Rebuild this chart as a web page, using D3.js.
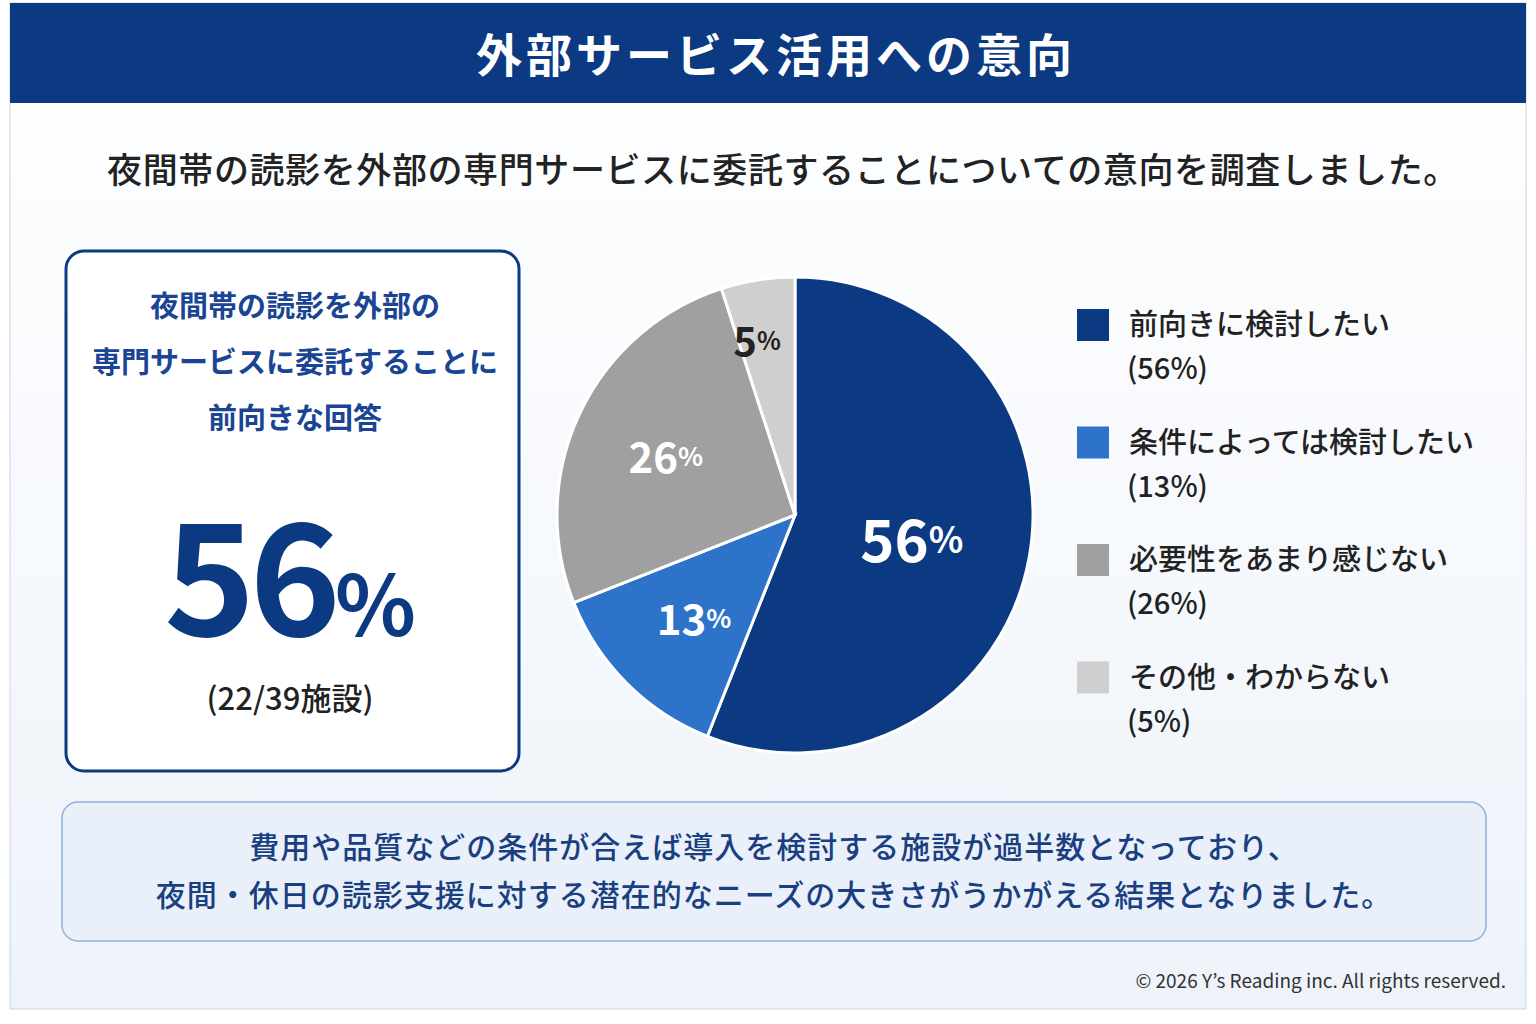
<!DOCTYPE html>
<html><head><meta charset="utf-8">
<script src="https://cdn.jsdelivr.net/npm/d3@7"></script>
<style>body{margin:0;background:#fff}svg{display:block}</style>
</head><body><div id="screen"></div>
<script>
var width = 1536, height = 1024;
var categories = ["前向きに検討したい", "条件によっては検討したい", "必要性をあまり感じない", "その他・わからない"];
var values = [56, 13, 26, 5];
var colors = ["#0b3a82", "#2c73c9", "#a0a0a0", "#cfcfcf"];
var font = "'Noto Sans CJK JP', 'Noto Sans', sans-serif";

var svg = d3.select("#screen").append("svg").attr("width", width).attr("height", height);
var defs = svg.append("defs");
var grad = defs.append("linearGradient").attr("id", "bg").attr("x1", 0).attr("y1", 0).attr("x2", 0).attr("y2", 1);
grad.append("stop").attr("offset", 0).attr("stop-color", "#ffffff");
grad.append("stop").attr("offset", 1).attr("stop-color", "#eef3fa");

svg.append("rect").attr("x", 10).attr("y", 3).attr("width", 1516).attr("height", 1006)
  .attr("fill", "url(#bg)").attr("stroke", "#c9d6ea");
svg.append("rect").attr("x", 10).attr("y", 3).attr("width", 1516).attr("height", 100).attr("fill", "#0b3a82");
svg.append("text").attr("x", 776).attr("y", 72).attr("text-anchor", "middle")
  .attr("font-family", font).attr("font-weight", 700).attr("font-size", 46).attr("fill", "#fff")
  .attr("letter-spacing", 4).text("外部サービス活用への意向");
svg.append("text").attr("x", 783).attr("y", 183).attr("text-anchor", "middle")
  .attr("font-family", font).attr("font-weight", 500).attr("font-size", 35).attr("fill", "#222")
  .attr("letter-spacing", 0.6)
  .text("夜間帯の読影を外部の専門サービスに委託することについての意向を調査しました。");

// left box
svg.append("rect").attr("x", 66).attr("y", 251).attr("width", 453).attr("height", 520).attr("rx", 18)
  .attr("fill", "#fff").attr("stroke", "#0b3a82").attr("stroke-width", 3);
["夜間帯の読影を外部の", "専門サービスに委託することに", "前向きな回答"].forEach(function(t, i) {
  svg.append("text").attr("x", 295).attr("y", 317 + i * 56).attr("text-anchor", "middle")
    .attr("font-family", font).attr("font-weight", 700).attr("font-size", 29).attr("fill", "#1a4494").text(t);
});
var big = svg.append("text").attr("x", 290).attr("y", 636).attr("text-anchor", "middle")
  .attr("font-family", font).attr("font-weight", 700).attr("fill", "#0b3a82");
big.append("tspan").attr("font-size", 155).attr("letter-spacing", -6).text(values[0]);
big.append("tspan").attr("font-size", 84).text("%");
svg.append("text").attr("x", 290).attr("y", 710).attr("text-anchor", "middle")
  .attr("font-family", font).attr("font-weight", 500).attr("font-size", 31).attr("fill", "#222").text("(22/39施設)");

// pie
var cx = 795, cy = 515, r = 238;
var pie = d3.pie().sort(null).value(function(d) { return d; });
var arc = d3.arc().innerRadius(0).outerRadius(r);
var g = svg.append("g").attr("transform", "translate(" + cx + "," + cy + ")");
var arcs = pie(values);
g.selectAll("path").data(arcs).enter().append("path")
  .attr("d", arc).attr("fill", function(d, i) { return colors[i]; })
  .attr("stroke", "#fff").attr("stroke-width", 3);
var labelR = [0.5, 0.6, 0.6, 0.75];
var labelCol = ["#fff", "#fff", "#fff", "#222"];
var labelSize = [58, 42, 42, 40];
arcs.forEach(function(d, i) {
  var a = (d.startAngle + d.endAngle) / 2;
  var t = g.append("text").attr("x", Math.sin(a) * r * labelR[i] - (i == 3 ? 10 : 0)).attr("y", -Math.cos(a) * r * labelR[i])
    .attr("text-anchor", "middle").attr("dominant-baseline", "central")
    .attr("font-family", font).attr("font-weight", 700).attr("fill", labelCol[i]);
  t.append("tspan").attr("font-size", labelSize[i]).text(values[i]);
  t.append("tspan").attr("font-size", labelSize[i] * 0.62).text("%");
});

// legend
var y = d3.scaleBand().domain(categories).range([305, 775]);
var leg = svg.selectAll(".leg").data(categories).enter().append("g")
  .attr("transform", function(d) { return "translate(1077," + y(d) + ")"; });
leg.append("rect").attr("width", 32).attr("height", 32).attr("y", 4).attr("fill", function(d, i) { return colors[i]; });
leg.append("text").attr("x", 52).attr("y", 30).attr("font-family", font).attr("font-weight", 500)
  .attr("font-size", 29).attr("fill", "#222").text(function(d) { return d; });
leg.append("text").attr("x", 50).attr("y", 74).attr("font-family", font).attr("font-weight", 500)
  .attr("font-size", 29).attr("fill", "#222").text(function(d, i) { return "(" + values[i] + "%)"; });

// bottom box
svg.append("rect").attr("x", 62).attr("y", 802).attr("width", 1424).attr("height", 139).attr("rx", 16)
  .attr("fill", "#e9f0fa").attr("stroke", "#8fb0de").attr("stroke-width", 1.5);
["費用や品質などの条件が合えば導入を検討する施設が過半数となっており、",
 "夜間・休日の読影支援に対する潜在的なニーズの大きさがうかがえる結果となりました。"].forEach(function(t, i) {
  svg.append("text").attr("x", 774).attr("y", 858 + i * 48).attr("text-anchor", "middle")
    .attr("font-family", font).attr("font-weight", 500).attr("font-size", 30).attr("fill", "#1a3f80")
    .attr("letter-spacing", 1).text(t);
});
svg.append("text").attr("x", 1506).attr("y", 988).attr("text-anchor", "end")
  .attr("font-family", font).attr("font-size", 19).attr("fill", "#333")
  .text("© 2026 Y’s Reading inc. All rights reserved.");
</script></body></html>
